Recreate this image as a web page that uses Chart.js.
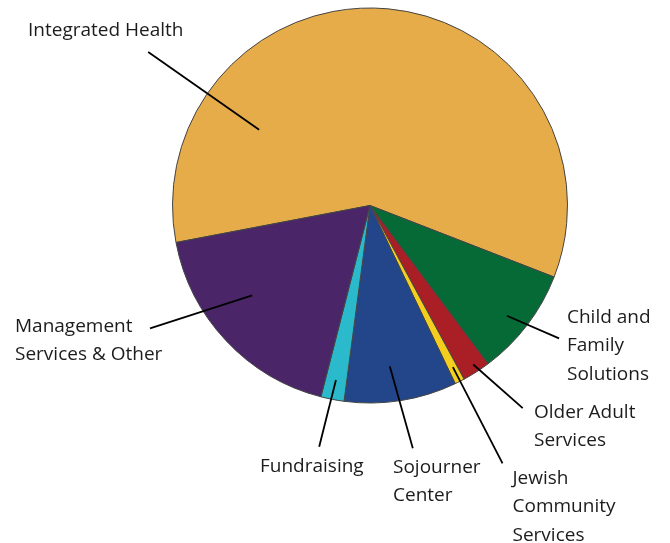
<!DOCTYPE html>
<html>
<head>
<meta charset="utf-8">
<script src="https://cdn.jsdelivr.net/npm/chart.js@4.4.1/dist/chart.umd.min.js"></script>
<style>
  html, body { margin: 0; padding: 0; background: #fff; }
  #wrap { width: 670px; height: 543px; }
</style>
</head>
<body>
<div id="wrap"><canvas id="pie" width="670" height="543"></canvas></div>
<script>
// --- DATOS ---
const categories = [
  "Integrated Health",
  "Child and Family Solutions",
  "Older Adult Services",
  "Jewish Community Services",
  "Sojourner Center",
  "Fundraising",
  "Management Services & Other"
];
const shares = [58.9, 8.9, 2.3, 0.8, 9.2, 1.9, 18.0];
const sliceColors = ["#E6AC4A", "#066A37", "#AA1F25", "#F4CE1E", "#23468B", "#2ABACB", "#4A2669"];

// --- ETIQUETAS (texto + línea guía) ---
// lines: texto partido; x/y: inicio del texto (primera línea base)
// at: posición a lo largo del arco (0..1), rin: radio interior relativo
// outAng/outR: extremo exterior de la guía (grados, radio relativo)
const labelLayout = [
  { lines: ["Integrated Health"], x: 28, y: 36, at: 0.213, rin: 0.68, outAng: 214.7, outR: 1.366 },
  { lines: ["Child and", "Family", "Solutions"], x: 567, y: 323, at: 0.55, rin: 0.89, outAng: 35.1, outR: 1.17 },
  { lines: ["Older Adult", "Services"], x: 534, y: 418, at: 0.45, rin: 0.96, outAng: 53.0, outR: 1.285 },
  { lines: ["Jewish", "Community", "Services"], x: 512.5, y: 484, at: 0.45, rin: 0.92, outAng: 62.8, outR: 1.468 },
  { lines: ["Sojourner", "Center"], x: 393, y: 473, at: 0.56, rin: 0.82, outAng: 80.0, outR: 1.248 },
  { lines: ["Fundraising"], x: 260, y: 471.5, at: 0.51, rin: 0.90, outAng: 101.9, outR: 1.248 },
  { lines: ["Management", "Services & Other"], x: 15, y: 331.5, at: 0.59, rin: 0.75, outAng: 150.8, outR: 1.276 }
];
const FONT = '19px "Open Sans", "Noto Sans", sans-serif';
const LINE_H = 28.3;

// --- PLUGIN DE ETIQUETAS ---
const leaderLabels = {
  id: "leaderLabels",
  afterDatasetsDraw(chart) {
    const ctx = chart.ctx;
    const arcs = chart.getDatasetMeta(0).data;
    ctx.save();
    arcs.forEach((arc, i) => {
      const lay = labelLayout[i];
      if (!lay) return;
      const { x: cx, y: cy, startAngle, endAngle, outerRadius } = arc.getProps(["x", "y", "startAngle", "endAngle", "outerRadius"], true);
      const a = startAngle + (endAngle - startAngle) * lay.at;
      const ix = cx + Math.cos(a) * outerRadius * lay.rin;
      const iy = cy + Math.sin(a) * outerRadius * lay.rin;
      const oa = lay.outAng * Math.PI / 180;
      const ox = cx + Math.cos(oa) * outerRadius * lay.outR;
      const oy = cy + Math.sin(oa) * outerRadius * lay.outR;
      ctx.beginPath();
      ctx.moveTo(ix, iy);
      ctx.lineTo(ox, oy);
      ctx.strokeStyle = "#000";
      ctx.lineWidth = 1.8;
      ctx.stroke();

      ctx.font = FONT;
      ctx.fillStyle = "#1c1c1c";
      ctx.textAlign = "left";
      ctx.textBaseline = "alphabetic";
      lay.lines.forEach((t, k) => ctx.fillText(t, lay.x, lay.y + k * LINE_H));
    });
    ctx.restore();
  }
};

// --- GRÁFICO ---
new Chart(document.getElementById("pie").getContext("2d"), {
  type: "pie",
  data: {
    labels: categories,
    datasets: [{
      data: shares,
      backgroundColor: sliceColors,
      borderColor: "#444",
      borderWidth: 1
    }]
  },
  options: {
    responsive: false,
    animation: false,
    rotation: 259.2,
    layout: { padding: { left: 172, right: 102, top: 7.5, bottom: 139.5 } },
    plugins: {
      legend: { display: false },
      tooltip: { enabled: false }
    }
  },
  plugins: [leaderLabels]
});
</script>
</body>
</html>
